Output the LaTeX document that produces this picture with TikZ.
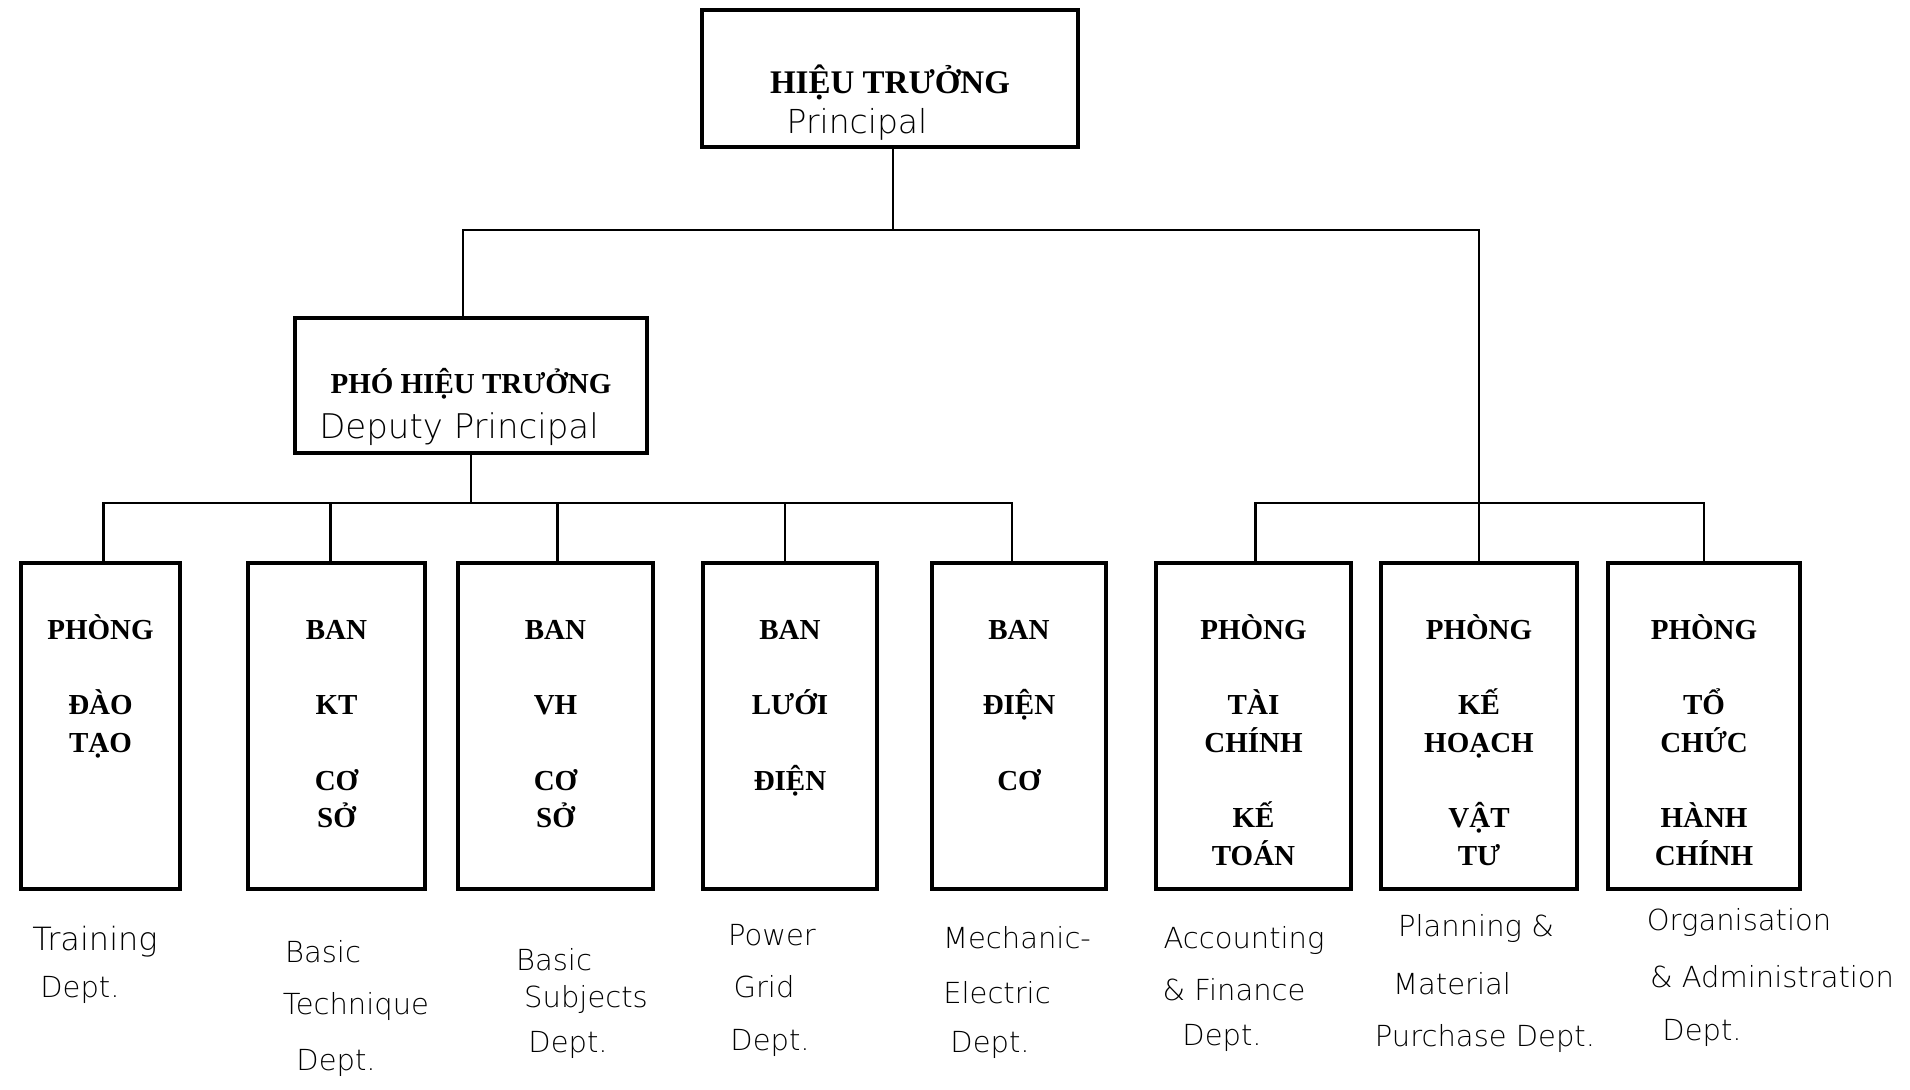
\documentclass[tikz,border=0pt]{standalone}
\usepackage{fontspec}
\setmainfont{Liberation Serif}
\newfontfamily\hand{DejaVu Sans ExtraLight}
\usetikzlibrary{calc}

\tikzset{
  unit/.style={draw, line width=3.5pt, minimum width=#1, minimum height=326, inner sep=0pt},
  headbox/.style={draw, line width=3.5pt, inner sep=0pt},
  unittext/.style={anchor=north, align=center, inner sep=0pt,
    font=\fontsize{29}{37.7}\selectfont\bfseries},
  headtext/.style={inner sep=0pt, font=\fontsize{#1}{#1}\selectfont\bfseries},
  link/.style={line width=2.8pt},
  hw/.style={inner sep=0pt, font=\hand\fontsize{#1}{#1}\selectfont},
  hw/.default=29,
}
\newcommand{\firstline}{\rule{0pt}{30pt}}

\begin{document}
\begin{tikzpicture}[x=1pt, y=-1pt]
  \fill[white] (0,0) rectangle (1910,1089);
  \useasboundingbox (0,0) rectangle (1910,1089);

  % head of the school and deputy
  \node[headbox, minimum width=376, minimum height=137] (p) at (890,78.5) {};
  \node[headtext=33] (pt) at (890,82) {HIỆU TRƯỞNG};
  \node[hw=33] (pe) at (857,124) {Principal};

  \node[headbox, minimum width=352, minimum height=135] (d) at (471,385.5) {};
  \node[headtext=29] (dt) at (471,384) {PHÓ HIỆU TRƯỞNG};
  \node[hw=34] (de) at (459,429) {Deputy Principal};

  % departments
  \node[unit=159] (b1) at (100.5,726) {};
  \node[unit=177] (b2) at (336.5,726) {};
  \node[unit=195] (b3) at (555.5,726) {};
  \node[unit=174] (b4) at (790,726) {};
  \node[unit=174] (b5) at (1019,726) {};
  \node[unit=195] (b6) at (1253.5,726) {};
  \node[unit=196] (b7) at (1479,726) {};
  \node[unit=192] (b8) at (1704,726) {};

  \node[unittext] (t1) at ($(b1.north)+(0,48)$) {\firstline PHÒNG\\[37.7pt]ĐÀO\\TẠO};
  \node[unittext] (t2) at ($(b2.north)+(0,48)$) {\firstline BAN\\[37.7pt]KT\\[37.7pt]CƠ\\SỞ};
  \node[unittext] (t3) at ($(b3.north)+(0,48)$) {\firstline BAN\\[37.7pt]VH\\[37.7pt]CƠ\\SỞ};
  \node[unittext] (t4) at ($(b4.north)+(0,48)$) {\firstline BAN\\[37.7pt]LƯỚI\\[37.7pt]ĐIỆN};
  \node[unittext] (t5) at ($(b5.north)+(0,48)$) {\firstline BAN\\[37.7pt]ĐIỆN\\[37.7pt]CƠ};
  \node[unittext] (t6) at ($(b6.north)+(0,48)$) {\firstline PHÒNG\\[37.7pt]TÀI\\CHÍNH\\[37.7pt]KẾ\\TOÁN};
  \node[unittext] (t7) at ($(b7.north)+(0,48)$) {\firstline PHÒNG\\[37.7pt]KẾ\\HOẠCH\\[37.7pt]VẬT\\TƯ};
  \node[unittext] (t8) at ($(b8.north)+(0,48)$) {\firstline PHÒNG\\[37.7pt]TỔ\\CHỨC\\[37.7pt]HÀNH\\CHÍNH};

  % connectors
  \coordinate (top) at ($(p.south |- 0,230)+(3,0)$);
  \coordinate (dtop) at ($(d.north)+(-8,0)$);
  \coordinate (lbus) at (d.south |- 0,503);
  \coordinate (rbus) at (b7.north |- 0,503);
  \draw[link] ($(p.south)+(3,0)$) -- (top);
  \draw[link] (dtop) |- (top) -| (b7.north);
  \draw[link] (d.south) -- (lbus);
  \draw[link] ($(b1.north)+(3,0)$) |- (lbus) -| ($(b5.north)+(-7,0)$);
  \draw[link] ($(b2.north)+(-6,0)$) -- ($(b2.north |- lbus)+(-6,0)$);
  \draw[link] ($(b3.north)+(2,0)$) -- ($(b3.north |- lbus)+(2,0)$);
  \draw[link] ($(b4.north)+(-5,0)$) -- ($(b4.north |- lbus)+(-5,0)$);
  \draw[link] ($(b6.north)+(2,0)$) |- (rbus) -| (b8.north);

  % English names under the departments
  \node[hw=32] (e1a) at (95,942) {Training};
  \node[hw] (e1b) at (80,990) {Dept.};
  \node[hw] (e2a) at (323,952) {Basic};
  \node[hw] (e2b) at (356,1006) {Technique};
  \node[hw] (e2c) at (336,1063) {Dept.};
  \node[hw] (e3a) at (554,960) {Basic};
  \node[hw] (e3b) at (586,999) {Subjects};
  \node[hw] (e3c) at (568,1045) {Dept.};
  \node[hw] (e4a) at (772,935) {Power};
  \node[hw] (e4b) at (764,987) {Grid};
  \node[hw] (e4c) at (770,1043) {Dept.};
  \node[hw] (e5a) at (1017,938) {Mechanic-};
  \node[hw] (e5b) at (997,993) {Electric};
  \node[hw] (e5c) at (990,1045) {Dept.};
  \node[hw] (e6a) at (1244,940) {Accounting};
  \node[hw] (e6b) at (1234,990) {\& Finance};
  \node[hw] (e6c) at (1222,1038) {Dept.};
  \node[hw] (e7a) at (1476,928) {Planning \&};
  \node[hw] (e7b) at (1452,984) {Material};
  \node[hw] (e7c) at (1485,1038) {Purchase Dept.};
  \node[hw] (e8a) at (1739,922) {Organisation};
  \node[hw] (e8b) at (1772,977) {\& Administration};
  \node[hw] (e8c) at (1702,1033) {Dept.};
\end{tikzpicture}
\end{document}
